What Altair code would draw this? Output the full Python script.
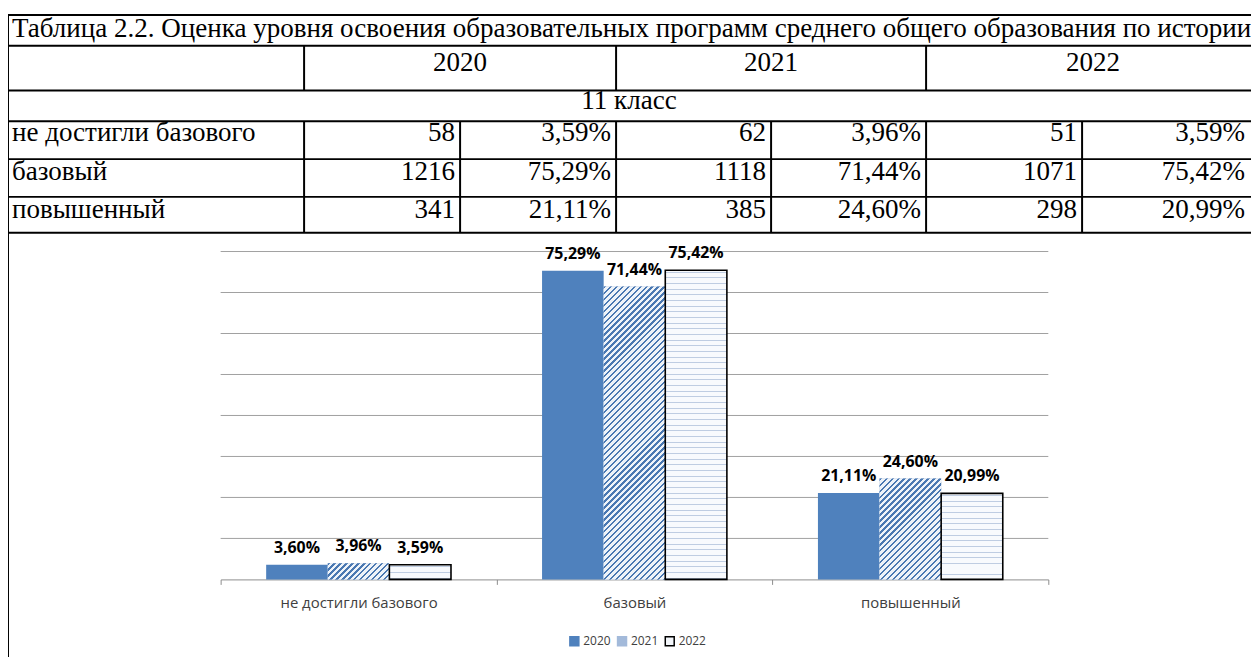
import math
import altair as alt
import pandas as pd

# ---------------- data ----------------
years = ["2020", "2021", "2022"]
levels = ["не достигли базового", "базовый", "повышенный"]
table_title = "Таблица 2.2. Оценка уровня освоения образовательных программ среднего общего образования по истории"
grade_label = "11 класс"
counts_2020 = [58, 1216, 341]
counts_2021 = [62, 1118, 385]
counts_2022 = [51, 1071, 298]
table_pct_2020 = [3.59, 75.29, 21.11]
table_pct_2021 = [3.96, 71.44, 24.60]
table_pct_2022 = [3.59, 75.42, 20.99]
chart_pct_2020 = [3.60, 75.29, 21.11]
chart_pct_2021 = [3.96, 71.44, 24.60]
chart_pct_2022 = [3.59, 75.42, 20.99]
grid_values = [10, 20, 30, 40, 50, 60, 70, 80]

# ---------------- layout (pixels in the view) ----------------
W, H = 1251, 651
ROW_Y = [5, 36, 81, 112, 150, 188, 224]
COL_X = [0, 298, 455, 612, 768, 924, 1081]
VIEW_RIGHT = 1250
YEAR_SPAN_RIGHT = 1260
GRADE_CENTER = 625
TEXT_LEFT = 4
CELL_PAD = 5
TITLE_BASE, YEAR_BASE, GRADE_BASE = 27, 61, 100
ROW_BASE = [132, 171, 209]

PLOT_X0, PLOT_X1 = 214, 1047
PLOT_BASE, PLOT_TOP = 573, 243
Y_MAX = 80
OFFSET_PAD = 0.739

SERIF = "Liberation Serif"
TFS = 27.2
SANS = "Open Sans"

BLUE = "#4F81BD"
fill_colors = [BLUE, "#A3BADA", "#F3F6FA"]
stroke_colors = [BLUE, "#A3BADA", "#000000"]

# pattern styles
HATCH_PERIOD, HATCH_LINE = 6.0, 2.3
HATCH_LINE_COLOR, HATCH_BG = "#4A78B2", "#EEF3F9"
DOT_PERIOD, DOT_LINE = 5.7, 1.0
DOT_LINE_COLOR, DOT_BG = "#BFCDE2", "#F8FAFD"
SEG = 10.0      # pattern tiles follow the 10 % grid steps
SEG_EPS = 0.12  # tiny overlap between tiles


def fmt_pct(v):
    return f"{v:.2f}".replace(".", ",") + "%"


# ---------------- table ----------------
rule_rows = []
for y in ROW_Y:
    rule_rows.append({"x": 0, "x2": W, "y": y, "y2": y})
rule_rows.append({"x": 0, "x2": 0, "y": ROW_Y[0], "y2": H})
for x in [COL_X[1], COL_X[3], COL_X[5]]:
    rule_rows.append({"x": x, "x2": x, "y": ROW_Y[1], "y2": ROW_Y[2]})
for x in COL_X[1:]:
    rule_rows.append({"x": x, "x2": x, "y": ROW_Y[3], "y2": ROW_Y[6]})
rules_df = pd.DataFrame(rule_rows)

left_df = pd.DataFrame(
    [{"x": TEXT_LEFT, "y": TITLE_BASE, "t": table_title}]
    + [{"x": TEXT_LEFT, "y": ROW_BASE[i], "t": levels[i]} for i in range(3)]
)
year_centers = [(COL_X[1] + COL_X[3]) / 2, (COL_X[3] + COL_X[5]) / 2, (COL_X[5] + YEAR_SPAN_RIGHT) / 2]
center_df = pd.DataFrame(
    [{"x": year_centers[j], "y": YEAR_BASE, "t": years[j]} for j in range(3)]
    + [{"x": GRADE_CENTER, "y": GRADE_BASE, "t": grade_label}]
)
counts = [counts_2020, counts_2021, counts_2022]
tpcts = [table_pct_2020, table_pct_2021, table_pct_2022]
right_edges = COL_X[2:] + [VIEW_RIGHT]
right_rows = []
for j in range(3):
    for i in range(3):
        right_rows.append({"x": right_edges[2 * j] - CELL_PAD, "y": ROW_BASE[i], "t": str(counts[j][i])})
        right_rows.append({"x": right_edges[2 * j + 1] - CELL_PAD, "y": ROW_BASE[i], "t": fmt_pct(tpcts[j][i])})
right_df = pd.DataFrame(right_rows)

table_rules = alt.Chart(rules_df).mark_rule(color="black", strokeWidth=2).encode(
    x=alt.X("x:Q", scale=None, axis=None),
    x2="x2:Q",
    y=alt.Y("y:Q", scale=None, axis=None),
    y2="y2:Q",
)


def text_layer(df, align):
    return alt.Chart(df).mark_text(
        font=SERIF, fontSize=TFS, color="black", align=align, baseline="alphabetic"
    ).encode(
        x=alt.X("x:Q", scale=None, axis=None),
        y=alt.Y("y:Q", scale=None, axis=None),
        text="t:N",
    )


# ---------------- bar chart ----------------
series = [chart_pct_2020, chart_pct_2021, chart_pct_2022]
bars_df = pd.DataFrame(
    [{"level": levels[i], "year": years[j], "value": v}
     for j, arr in enumerate(series)
     for i, v in enumerate(arr)]
)
bars_df["label"] = bars_df["value"].map(fmt_pct)

band = (PLOT_X1 - PLOT_X0) / len(levels)
bar_w = band / (len(years) + 2 * OFFSET_PAD)
px_per = (PLOT_BASE - PLOT_TOP) / Y_MAX


def stops_from_intervals(intervals, L):
    stops = []
    for a, b, col in intervals:
        a = min(max(a, 0.0), L)
        b = min(max(b, 0.0), L)
        if b <= a:
            continue
        stops.append({"offset": round(a / L, 5), "color": col})
        stops.append({"offset": round(b / L, 5), "color": col})
    return stops


def hatch_tile(w, h, y_top):
    """Diagonal '/' stripes; phase continuous with the bar top."""
    L = w + h
    k = L / (w * w + h * h)
    n0 = math.floor(y_top / HATCH_PERIOD)
    s = n0 * HATCH_PERIOD - y_top
    iv = []
    while s < L:
        iv.append((s, s + HATCH_LINE, HATCH_LINE_COLOR))
        iv.append((s + HATCH_LINE, s + HATCH_PERIOD, HATCH_BG))
        s += HATCH_PERIOD
    return {"gradient": "linear", "x1": 0, "y1": 0, "x2": k * w, "y2": k * h,
            "stops": stops_from_intervals(iv, L)}


def dots_tile(h, y_top):
    """Thin horizontal dashed-looking lines; phase continuous with the bar top."""
    n0 = math.floor((y_top - 1.5) / DOT_PERIOD)
    s = n0 * DOT_PERIOD + 1.5 - y_top
    iv = []
    while s < h:
        iv.append((s, s + DOT_LINE, DOT_LINE_COLOR))
        iv.append((s + DOT_LINE, s + DOT_PERIOD, DOT_BG))
        s += DOT_PERIOD
    return {"gradient": "linear", "x1": 0, "y1": 0, "x2": 0, "y2": 1,
            "stops": stops_from_intervals(iv, h)}


tile_rows = []
tile_conditions = []
sid = 0
for j in (1, 2):
    for i, v in enumerate(series[j]):
        lo = 0.0
        while lo < v - 1e-9:
            hi = min(lo + SEG, v)
            hi_d = min(hi + SEG_EPS, v)
            h_s = (hi_d - lo) * px_per
            y_top = (v - hi_d) * px_per
            grad = hatch_tile(bar_w, h_s, y_top) if j == 1 else dots_tile(h_s, y_top)
            tile_rows.append({"level": levels[i], "year": years[j], "lo": lo, "hi": hi_d, "sid": sid})
            tile_conditions.append({"test": f"datum.sid === {sid}", "value": grad})
            sid += 1
            lo = hi
tiles_df = pd.DataFrame(tile_rows)

x_scale = alt.Scale(domain=levels, range=[PLOT_X0, PLOT_X1], paddingInner=0, paddingOuter=0)
xo_scale = alt.Scale(domain=years, paddingInner=0, paddingOuter=OFFSET_PAD)
y_scale = alt.Scale(domain=[0, Y_MAX], range=[PLOT_BASE, PLOT_TOP], nice=False, zero=True)

x_axis = alt.Axis(
    orient="bottom", offset=PLOT_BASE - H, labelAngle=0, labelFont=SANS,
    labelFontSize=15, labelColor="#404040", labelPadding=11, labelOverlap=False,
    labelLimit=0, domainColor="#8C8C8C", domainWidth=1, tickBand="extent",
    tickSize=5, tickColor="#8C8C8C", grid=False, title=None,
)

legend = alt.Legend(
    orient="none", legendX=564, legendY=629, direction="horizontal", title=None,
    symbolType="square", symbolSize=81, symbolStrokeWidth=1.5,
    labelFont=SANS, labelFontSize=12, labelColor="#404040",
    labelOffset=3, columnPadding=3, padding=0,
)

grid = alt.Chart(pd.DataFrame({"g": grid_values})).mark_rule(color="#A0A0A0", strokeWidth=1).encode(
    y=alt.Y("g:Q", scale=y_scale, axis=None),
    x=alt.value(PLOT_X0),
    x2=alt.value(PLOT_X1),
)

x_enc = alt.X("level:N", scale=x_scale, sort=levels, title=None, axis=x_axis)
xo_enc = alt.XOffset("year:N", scale=xo_scale, sort=years)
y_enc = alt.Y("value:Q", scale=y_scale, axis=None)

bars = alt.Chart(bars_df).mark_bar(strokeWidth=0).encode(
    x=x_enc,
    xOffset=xo_enc,
    y=y_enc,
    fill=alt.Fill("year:N", scale=alt.Scale(domain=years, range=fill_colors), legend=legend),
    stroke=alt.Stroke("year:N", scale=alt.Scale(domain=years, range=stroke_colors), legend=legend),
)

tiles = alt.Chart(tiles_df).mark_bar(strokeWidth=0).encode(
    x=x_enc,
    xOffset=xo_enc,
    y=alt.Y("lo:Q", scale=y_scale, axis=None),
    y2="hi:Q",
    fill=alt.FillValue(value="#A3BADA", condition=tile_conditions),
)

outlines = alt.Chart(bars_df).transform_filter("datum.year === '2022'").mark_bar(
    fillOpacity=0, stroke="#000000", strokeWidth=1.6
).encode(
    x=x_enc,
    xOffset=xo_enc,
    y=y_enc,
)

labels = alt.Chart(bars_df).mark_text(
    font=SANS, fontSize=16, fontWeight="bold", color="#000000",
    align="center", baseline="alphabetic", dy=-12,
).encode(
    x=x_enc,
    xOffset=xo_enc,
    y=y_enc,
    text="label:N",
)

chart = alt.layer(
    table_rules,
    text_layer(left_df, "left"),
    text_layer(center_df, "center"),
    text_layer(right_df, "right"),
    grid,
    bars,
    tiles,
    outlines,
    labels,
).properties(
    width=W, height=H, autosize=alt.AutoSizeParams(type="none"), padding=0,
    background="white",
).configure_view(stroke=None)

chart.save("out.html", embed_options={"renderer": "svg", "actions": False})
